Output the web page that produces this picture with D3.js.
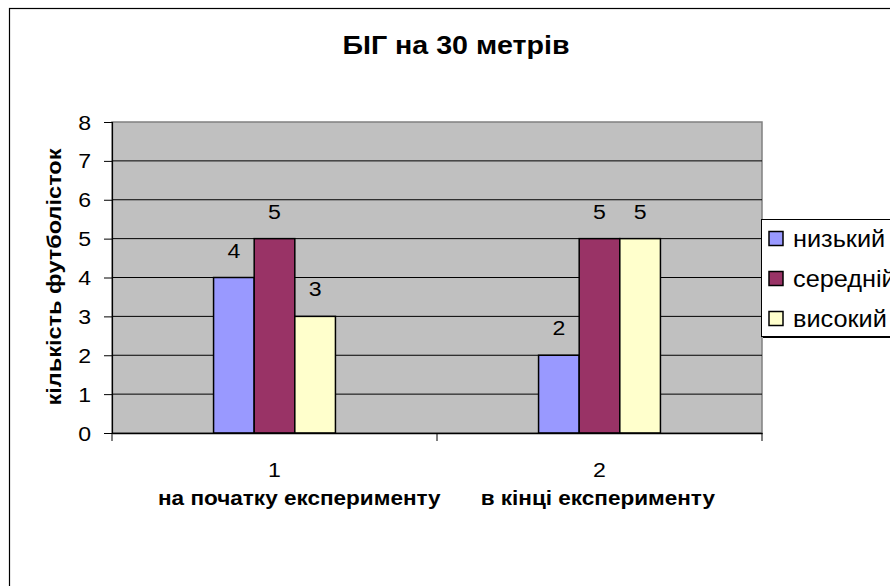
<!DOCTYPE html>
<html>
<head>
<meta charset="utf-8">
<script src="https://cdn.jsdelivr.net/npm/d3@7"></script>
<style>
  body { margin: 0; background: #fff; }
  text { font-family: 'Liberation Sans', Arial, sans-serif; fill: #000; }
</style>
</head>
<body>
<script>
const categories = ['1', '2']
const groupTitles = ['на початку експерименту', 'в кінці експерименту']
const seriesNames = ['низький', 'середній', 'високий']
const low = [4, 2]
const middle = [5, 5]
const high = [3, 5]
const seriesColors = ['#9999FF', '#993366', '#FFFFCC']
const yTicks = [0, 1, 2, 3, 4, 5, 6, 7, 8]

const seriesValues = [low, middle, high]
const data = categories.map((c, i) => ({
  cat: c,
  vals: seriesNames.map((s, j) => ({ key: s, value: seriesValues[j][i], color: seriesColors[j] }))
}))

const width = 890
const height = 586
const plot = { left: 112, top: 122, right: 762, bottom: 433 }
// the source picture is a bit wider than tall, text looks stretched
const stretch = 1.1

const svg = d3.select('body').append('svg')
  .attr('width', width)
  .attr('height', height)

// helper: text placed at x,y and stretched horizontally
const label = (parent, x, y, str, size, anchor, bold) => parent.append('text')
  .attr('transform', `translate(${x}, ${y}) scale(${stretch}, 1)`)
  .attr('text-anchor', anchor || 'start')
  .style('font-size', size + 'px')
  .style('font-weight', bold ? 'bold' : 'normal')
  .text(str)

// outer chart frame (cut off at right and bottom like the source)
svg.append('rect')
  .attr('x', 9.5).attr('y', 8.5)
  .attr('width', 900).attr('height', 600)
  .style('fill', '#fff')
  .style('stroke', '#000')
  .style('stroke-width', 1.2)

const xScale = d3.scaleBand()
  .domain(categories)
  .range([plot.left, plot.right])

const xInner = d3.scaleBand()
  .domain(seriesNames)
  .range([0, xScale.bandwidth()])
  .paddingOuter(2.5)

const yScale = d3.scaleLinear()
  .domain([0, 8])
  .range([plot.bottom, plot.top])

// plot area
svg.append('rect')
  .attr('x', plot.left).attr('y', plot.top)
  .attr('width', plot.right - plot.left)
  .attr('height', plot.bottom - plot.top)
  .style('fill', '#C0C0C0')
  .style('stroke', '#808080')
  .style('stroke-width', 1.5)

// gridlines
svg.append('g')
  .selectAll('line')
  .data(yTicks.filter(d => d > 0 && d < 8))
  .enter().append('line')
  .attr('x1', plot.left).attr('x2', plot.right)
  .attr('y1', d => yScale(d)).attr('y2', d => yScale(d))
  .style('stroke', '#000')
  .style('stroke-width', 1)

// bars
const groups = svg.selectAll('.group')
  .data(data)
  .enter().append('g')
  .attr('class', 'group')
  .attr('transform', d => `translate(${xScale(d.cat)}, 0)`)

groups.selectAll('rect')
  .data(d => d.vals)
  .enter().append('rect')
  .attr('x', d => xInner(d.key))
  .attr('y', d => yScale(d.value))
  .attr('width', xInner.bandwidth())
  .attr('height', d => yScale(0) - yScale(d.value))
  .style('fill', d => d.color)
  .style('stroke', '#000')
  .style('stroke-width', 1.5)

groups.each(function(g) {
  g.vals.forEach(d => {
    label(d3.select(this), xInner(d.key) + xInner.bandwidth() / 2, yScale(d.value) - 20, d.value, 21, 'middle')
  })
})

// y axis
const yAxis = svg.append('g')
  .attr('transform', `translate(${plot.left}, 0)`)
  .call(d3.axisLeft(yScale).tickValues(yTicks).tickSize(8).tickFormat(''))
yAxis.select('.domain').style('stroke', '#000').style('stroke-width', 1.2)
yAxis.selectAll('.tick line').style('stroke', '#000')
yTicks.forEach(t => label(svg, plot.left - 21, yScale(t) + 7.5, t, 21, 'end'))

// x axis
const xAxis = svg.append('g')
  .attr('transform', `translate(0, ${plot.bottom})`)
  .call(d3.axisBottom(xScale).tickSize(0).tickFormat(''))
xAxis.select('.domain').style('stroke', '#000').style('stroke-width', 1.5)
categories.forEach(c => label(svg, xScale(c) + xScale.bandwidth() / 2, 477, c, 21, 'middle'))

// x ticks between categories
svg.append('g')
  .selectAll('line')
  .data([plot.left, plot.left + xScale.step(), plot.right])
  .enter().append('line')
  .attr('x1', d => d).attr('x2', d => d)
  .attr('y1', plot.bottom).attr('y2', plot.bottom + 8)
  .style('stroke', '#000')

// titles
label(svg, 456, 54, 'БІГ на 30 метрів', 26, 'middle', true)

svg.append('text')
  .attr('transform', `translate(61, 277) rotate(-90)`)
  .attr('text-anchor', 'middle')
  .attr('textLength', 257)
  .attr('lengthAdjust', 'spacingAndGlyphs')
  .style('font-size', '20px')
  .style('font-weight', 'bold')
  .text('кількість футболісток')

label(svg, 158, 505, groupTitles[0], 20.5, 'start', true)
label(svg, 715, 505, groupTitles[1], 20.5, 'end', true)

// legend
const legend = svg.append('g').attr('transform', 'translate(761, 219)')
legend.append('rect')
  .attr('x', 2).attr('y', 2)
  .attr('width', 200).attr('height', 117)
  .style('fill', '#000')
legend.append('rect')
  .attr('x', 0.5).attr('y', 0.5)
  .attr('width', 200).attr('height', 117)
  .style('fill', '#fff')
  .style('stroke', '#000')

seriesNames.forEach((s, i) => {
  const item = legend.append('g')
    .attr('transform', `translate(8, ${19.5 + i * 40})`)
  item.append('rect')
    .attr('x', 0).attr('y', -7)
    .attr('width', 14).attr('height', 14)
    .style('fill', seriesColors[i])
    .style('stroke', '#000')
    .style('stroke-width', 1.5)
  label(item, 24, 8, s, 23)
})
</script>
</body>
</html>
